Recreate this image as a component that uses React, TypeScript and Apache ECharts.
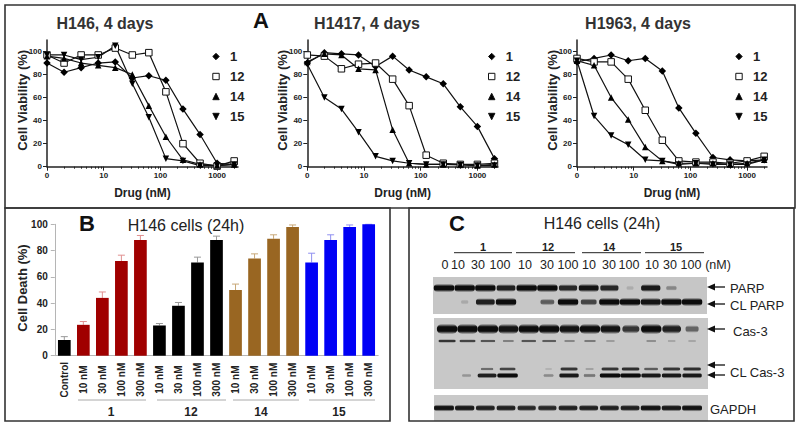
import React, { useEffect, useRef } from "react";
import * as echarts from "echarts";

const FONT = '"Liberation Sans", Arial, sans-serif';

// ---- Panel A data ----
const drugDoses = [1, 2, 4, 8, 16, 32, 62.5, 125, 250, 500, 1000, 2000];
const compoundNames = ["1", "12", "14", "15"];
const h146_1 = [90, 82, 86, 90, 91, 77, 79, 75, 50, 28, 3, 2];
const h146_12 = [97, 90, 97, 97, 103, 97, 99, 65, 20, 3, 0.5, 5];
const h146_14 = [96, 94, 90, 88, 86, 80, 53, 26, 6, 2, 1, 2];
const h146_15 = [97, 97, 93, 95, 105, 72, 43, 7, 5, 1, 1, 2];
const h1417_1 = [90, 99, 98, 97, 87, 96, 84, 78, 72, 52, 35, 7];
const h1417_12 = [97, 96, 85, 89, 90, 76, 53, 10, 3, 2, 2, 3];
const h1417_14 = [91, 98, 97, 85, 84, 32, 3, 2, 2, 2, 1, 2];
const h1417_15 = [89, 60, 50, 30, 9, 5, 3, 2, 2, 1.5, 1, 1];
const h1963_1 = [91, 94, 97, 92, 94, 83, 51, 29, 8, 6, 5, 6];
const h1963_12 = [94, 91, 91, 76, 49, 23, 5, 4, 4, 3, 5, 9];
const h1963_14 = [92, 88, 60, 41, 17, 5, 3, 3, 3, 2, 3, 6];
const h1963_15 = [92, 44, 27, 19, 6, 5, 2, 3, 2, 2, 2, 6];
const majorTicks = [1, 10, 100, 1000];
const minorTicks = [2, 3, 4, 5, 6, 7, 8, 9, 20, 30, 40, 50, 60, 70, 80, 90, 200, 300, 400, 500, 600, 700, 800, 900, 2000];

// ---- Panel B data ----
const deathCategories = ["Control", "10 nM", "30 nM", "100 nM", "300 nM", "10 nM", "30 nM", "100 nM", "300 nM", "10 nM", "30 nM", "100 nM", "300 nM", "10 nM", "30 nM", "100 nM", "300 nM"];
const deathValues = [12, 23.5, 44, 72, 88, 23, 38, 71, 88, 50, 74, 89, 98, 71, 88, 98, 100];
const deathErrors = [2.5, 2.5, 4.5, 4.5, 3.5, 1.5, 2.5, 4, 3, 4.5, 3.5, 3, 1.5, 7, 4, 1.5, 0];

// ---- Panel C band intensities (lane by lane, 13 lanes) ----
const parpBand = [1, 1, 1, 0.85, 1, 1, 0.8, 0.95, 0.8, 0.06, 0.9, 0.22, 0];
const clParpBand = [0, 0.07, 0.85, 1, 0, 0.45, 1, 0.6, 1, 1, 0.95, 1, 1];
const cas3Band = [1, 1, 1, 0.95, 1, 1, 0.95, 1, 0.95, 0.7, 1, 0.85, 0.4];
const cas3LowerBand = [0.7, 0.6, 0.5, 0.25, 0.5, 0.45, 0.22, 0.28, 0.12, 0, 0.18, 0.08, 0.08];
const clCasUpperBand = [0, 0, 0.35, 0.6, 0, 0.04, 0.7, 0.1, 0.7, 0.75, 0.45, 0.7, 0.75];
const clCasLowerBand = [0, 0.15, 0.85, 1, 0, 0.2, 0.9, 0.3, 1, 1, 0.9, 0.9, 0.9];
const gapdhBand = [0.95, 0.9, 0.85, 0.85, 0.8, 0.8, 0.85, 0.85, 0.85, 0.85, 0.95, 0.9, 0.95];
const doseLabels = ["0", "10", "30", "100", "10", "30", "100", "10", "30", "100", "10", "30", "100"];

const panels = [
  { title: "H146, 4 days", left: 47, end: 238, titleX: 105, legendX: 212, rows: [h146_1, h146_12, h146_14, h146_15] },
  { title: "H1417, 4 days", left: 307.3, end: 498, titleX: 367, legendX: 487.7, rows: [h1417_1, h1417_12, h1417_14, h1417_15] },
  { title: "H1963, 4 days", left: 577, end: 767, titleX: 638, legendX: 735, rows: [h1963_1, h1963_12, h1963_14, h1963_15] },
];
const symbols = [
  { symbol: "diamond", size: 7.5, rotate: 0, fill: "#000" },
  { symbol: "rect", size: 6.5, rotate: 0, fill: "#fff" },
  { symbol: "triangle", size: 6.5, rotate: 0, fill: "#000" },
  { symbol: "triangle", size: 6.5, rotate: 180, fill: "#000" },
];

const lightAxis = "#b5b5b5";
const barColors = ["#000000", "#a00000", "#a00000", "#a00000", "#a00000", "#000000", "#000000", "#000000", "#000000", "#996622", "#996622", "#996622", "#996622", "#0000f5", "#0000f5", "#0000f5", "#0000f5"];
const errColors = ["#999999", "#e09090", "#e09090", "#e09090", "#e09090", "#999999", "#999999", "#999999", "#999999", "#c8a878", "#c8a878", "#c8a878", "#c8a878", "#9090f0", "#9090f0", "#9090f0", "#9090f0"];

const blotRows = [
  { y: 288, h: 8, shift: 0, bg: 198, bands: parpBand },
  { y: 302, h: 8, shift: 0, bg: 198, bands: clParpBand },
  { y: 329, h: 10, shift: 0.15, bg: 198, bands: cas3Band },
  { y: 341, h: 4, shift: 0.15, bg: 198, bands: cas3LowerBand },
  { y: 369, h: 4.5, shift: 0.1, bg: 198, bands: clCasUpperBand },
  { y: 375.5, h: 5.5, shift: 0.1, bg: 198, bands: clCasLowerBand },
  { y: 408, h: 6.5, shift: 0, bg: 198, bands: gapdhBand },
];

function buildOption() {
  const grid: any[] = [];
  const xAxis: any[] = [];
  const yAxis: any[] = [];
  const series: any[] = [];
  const legend: any[] = [];
  const title: any[] = [];

  panels.forEach((p, i) => {
    grid.push({ left: p.left, width: p.end - p.left, top: 40, height: 126.7 });
    const maxDose = Math.pow(10, (p.end - p.left) / 56.7);
    xAxis.push({
      type: "log", logBase: 10, gridIndex: i, min: 1, max: maxDose, position: "bottom",
      name: "Drug (nM)", nameLocation: "middle", nameGap: 20,
      nameTextStyle: { fontFamily: FONT, fontWeight: "bold", fontSize: 12, color: "#222" },
      axisLine: { show: true, onZero: false, lineStyle: { color: "#222", width: 1.5 } },
      axisTick: { show: true, length: 4, lineStyle: { color: "#222", width: 1 }, customValues: majorTicks },
      axisLabel: {
        fontFamily: FONT, fontWeight: "bold", fontSize: 8, color: "#222", margin: 5,
        customValues: majorTicks, hideOverlap: false, showMinLabel: true, showMaxLabel: true,
        formatter: (v: number) => (Math.round(v) === 1 ? "0" : String(Math.round(v))),
      },
      splitLine: { show: false }, minorTick: { show: false },
    });
    yAxis.push({
      type: "value", gridIndex: i, min: 0, max: 110,
      name: "Cell Viability (%)", nameLocation: "middle",
      nameGap: 18.5, nameRotate: 90, nameMoveOverlap: false,
      nameTextStyle: { fontFamily: FONT, fontWeight: "bold", fontSize: 13, color: "#222", padding: [0, 0, 0, 6] },
      axisLine: { show: true, lineStyle: { color: "#222", width: 1.5 } },
      axisTick: { show: true, length: 4, lineStyle: { color: "#222", width: 1 }, customValues: [0, 20, 40, 60, 80, 100] },
      axisLabel: { fontFamily: FONT, fontWeight: "bold", fontSize: 8, color: "#222", margin: 5, customValues: [0, 20, 40, 60, 80, 100] },
      splitLine: { show: false },
    });
    p.rows.forEach((row, k) => {
      const s = symbols[k];
      series.push({
        type: "line", name: compoundNames[k], xAxisIndex: i, yAxisIndex: i,
        data: drugDoses.map((d, j) => [d, row[j]]),
        symbol: s.symbol, symbolSize: s.size, symbolRotate: s.rotate, showAllSymbol: true,
        lineStyle: { color: "#111", width: 1.2 },
        itemStyle: { color: s.fill, borderColor: "#111", borderWidth: k === 1 ? 1 : 0 },
        silent: true,
      });
    });
    legend.push({
      orient: "vertical", left: p.legendX, top: 50, padding: 0, itemWidth: 8, itemHeight: 8, itemGap: 7,
      selectedMode: false, data: compoundNames,
      lineStyle: { opacity: 0, width: 0 },
      itemStyle: { borderWidth: 1 },
      textStyle: { fontFamily: FONT, fontWeight: "bold", fontSize: 13, color: "#222", padding: [0, 0, 0, 5] },
    });
    title.push({
      text: p.title, left: p.titleX, top: 15, textAlign: "center", padding: 0,
      textStyle: { fontFamily: FONT, fontWeight: "bold", fontSize: 16, color: "#333" },
    });
  });

  // minor x ticks below the three curve panels
  panels.forEach((p, i) => {
    const maxDose = Math.pow(10, (p.end - p.left) / 56.7);
    xAxis.push({
      type: "log", logBase: 10, gridIndex: i, min: 1, max: maxDose, position: "bottom",
      axisLine: { show: false, onZero: false },
      axisTick: { show: true, length: 2, lineStyle: { color: "#222", width: 1 }, customValues: minorTicks },
      axisLabel: { show: false }, splitLine: { show: false },
    });
  });

  // Panel B
  const barGrid = grid.length;
  grid.push({ left: 54.8, width: 323.4, top: 224.3, height: 131.4 });
  const barX = xAxis.length;
  xAxis.push({
    type: "category", gridIndex: barGrid, data: deathCategories,
    axisLine: { show: true, lineStyle: { color: lightAxis, width: 1 } },
    axisTick: { show: false },
    axisLabel: {
      interval: 0, rotate: 90, align: "center", verticalAlign: "middle", margin: 24,
      fontFamily: FONT, fontWeight: "bold", fontSize: 10, color: "#222",
    },
  });
  const barY = yAxis.length;
  yAxis.push({
    type: "value", gridIndex: barGrid, min: 0, max: 100, interval: 20,
    name: "Cell Death (%)", nameLocation: "middle", nameGap: 26, nameMoveOverlap: false,
    nameTextStyle: { fontFamily: FONT, fontWeight: "bold", fontSize: 13, color: "#222", padding: [0, 0, 0, 4] },
    axisLine: { show: true, lineStyle: { color: lightAxis, width: 1 } },
    axisTick: { show: true, length: 4, lineStyle: { color: lightAxis } },
    axisLabel: { fontFamily: FONT, fontWeight: "bold", fontSize: 10, color: "#222", margin: 7 },
    splitLine: { show: false },
  });
  series.push({
    type: "bar", xAxisIndex: barX, yAxisIndex: barY, barWidth: 12.7, silent: true,
    data: deathValues.map((v, i) => ({ value: v, itemStyle: { color: barColors[i] } })),
  });
  series.push({
    type: "custom", xAxisIndex: barX, yAxisIndex: barY, silent: true, z: 1,
    data: deathValues.map((v, i) => [i, v, v + deathErrors[i]]),
    renderItem: (_: any, api: any) => {
      const i = api.value(0);
      const a = api.coord([i, api.value(1)]);
      const b = api.coord([i, api.value(2)]);
      const style = { stroke: errColors[i], lineWidth: 1, fill: "none" };
      return {
        type: "group",
        children: [
          { type: "line", shape: { x1: a[0], y1: a[1], x2: b[0], y2: b[1] }, style },
          { type: "line", shape: { x1: a[0] - 3.5, y1: b[1], x2: a[0] + 3.5, y2: b[1] }, style },
        ],
      };
    },
  });

  // Panel C blot bands
  const blotGrid = grid.length;
  grid.push({ left: 433, width: 275, top: 277, height: 144 });
  const blotX = xAxis.length;
  xAxis.push({ type: "value", gridIndex: blotGrid, show: false, min: -0.532, max: 12.77 });
  const blotY = yAxis.length;
  yAxis.push({ type: "value", gridIndex: blotGrid, show: false, min: 277, max: 421, inverse: true });
  const bandData: number[][] = [];
  blotRows.forEach((r) =>
    r.bands.forEach((d, lane) => {
      if (d > 0) bandData.push([lane + r.shift * (1 - lane / 12), r.y, d, r.h, r.bg]);
    })
  );
  series.push({
    type: "custom", xAxisIndex: blotX, yAxisIndex: blotY, silent: true, clip: true,
    data: bandData,
    renderItem: (_: any, api: any) => {
      const c = api.coord([api.value(0), api.value(1)]);
      const d = api.value(2);
      const h = api.value(3) * (0.55 + 0.45 * d);
      const w = 5 + 15.5 * Math.pow(d, 0.7);
      const g = Math.round(api.value(4) - (api.value(4) - 12) * Math.pow(d, 0.7));
      const k = `${g},${g},${g}`;
      return {
        type: "rect",
        shape: { x: c[0] - w / 2, y: c[1] - h / 2, width: w, height: h, r: h / 2 },
        style: {
          fill: new echarts.graphic.LinearGradient(0, 0, 0, 1, [
            { offset: 0, color: `rgba(${k},0.1)` },
            { offset: 0.28, color: `rgba(${k},1)` },
            { offset: 0.72, color: `rgba(${k},1)` },
            { offset: 1, color: `rgba(${k},0.1)` },
          ]),
        },
      };
    },
  });

  const txt = (text: string, x: number, y: number, fontSize: number, fontWeight = "normal", textAlign = "center", fill = "#222") => ({
    type: "text", x, y,
    style: { text, fontSize, fontWeight, fontFamily: FONT, fill, textAlign, textVerticalAlign: "middle" },
  });
  const frame = (x: number, y: number, width: number, height: number) => ({
    type: "rect", shape: { x, y, width, height },
    style: { fill: "none", stroke: "#333", lineWidth: 1.6 },
  });
  const rule = (x1: number, x2: number, y: number, stroke: string, lineWidth = 1) => ({
    type: "line", shape: { x1, y1: y, x2, y2: y }, style: { stroke, lineWidth },
  });
  const arrow = (tip: number, tail: number, y: number) => [
    rule(tip + 5, tail, y, "#111", 1.3),
    { type: "polygon", shape: { points: [[tip, y], [tip + 8, y - 3.5], [tip + 8, y + 3.5]] }, style: { fill: "#111" } },
  ];
  const gray = (x: number, y: number, width: number, height: number, fill: string) => ({
    type: "rect", shape: { x, y, width, height }, style: { fill },
  });
  const laneText = [445, 458, 478, 500, 525, 547, 568, 589, 609, 629, 652, 670, 691];

  const graphic: any[] = [
    gray(433, 277, 274, 37, "#c6c6c6"),
    gray(434, 318, 274, 71, "#c8c8c8"),
    gray(434, 395, 274, 26, "#c9c9c9"),
    frame(5, 5, 790, 203),
    frame(5, 208, 385, 213),
    frame(409, 208, 385, 213),
    txt("A", 261, 20, 22, "bold", "center", "#111"),
    txt("B", 87, 223, 22, "bold", "center", "#111"),
    txt("C", 457, 223, 22, "bold", "center", "#111"),
    txt("H146 cells (24h)", 186, 225, 16),
    txt("H146 cells (24h)", 602, 223, 16),
    rule(78, 146, 400, "#aaa"), rule(157, 226, 400, "#aaa"), rule(233, 299, 400, "#aaa"), rule(309, 375, 400, "#aaa"),
    txt("1", 111, 412, 12, "bold"), txt("12", 191, 412, 12, "bold"), txt("14", 261, 412, 12, "bold"), txt("15", 339, 412, 12, "bold"),
    rule(454, 512, 252.7, "#222"), rule(516, 575, 252.7, "#222"), rule(582, 641, 252.7, "#222"), rule(645, 704, 252.7, "#222"),
    txt("1", 483, 247, 11, "bold"), txt("12", 548, 247, 11, "bold"), txt("14", 609, 247, 11, "bold"), txt("15", 676, 247, 11, "bold"),
    ...doseLabels.map((t, i) => txt(t, laneText[i], 264.5, 12.5)),
    txt("(nM)", 718, 264.5, 12.5),
    ...arrow(707, 725, 287),
    ...arrow(707, 725, 304),
    ...arrow(707, 725, 329),
    ...arrow(707, 725, 365),
    ...arrow(707, 725, 375),
    txt("PARP", 730, 288, 13, "normal", "left"),
    txt("CL PARP", 730, 305, 13, "normal", "left"),
    txt("Cas-3", 733, 331, 13, "normal", "left"),
    txt("CL Cas-3", 730, 372, 13, "normal", "left"),
    txt("GAPDH", 710, 409, 13, "normal", "left"),
  ];

  return {
    animation: false,
    backgroundColor: "#fff",
    title, legend, grid, xAxis, yAxis, series, graphic,
  };
}

export default function App() {
  const ref = useRef<HTMLDivElement>(null);
  useEffect(() => {
    const chart = echarts.init(ref.current!, undefined, { renderer: "svg" });
    chart.setOption(buildOption() as any);
    return () => chart.dispose();
  }, []);
  return <div ref={ref} style={{ position: "fixed", left: 0, top: 0, width: 800, height: 427 }} />;
}
